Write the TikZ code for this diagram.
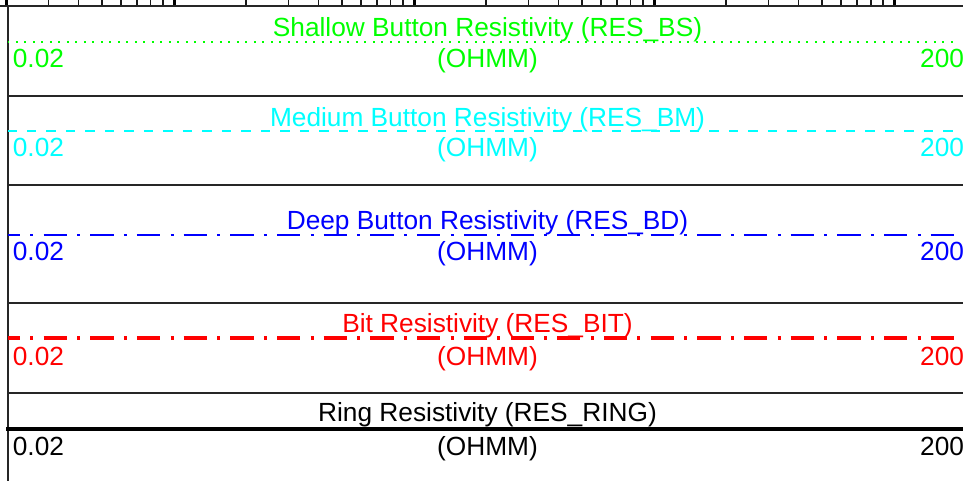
\documentclass[tikz,border=0pt]{standalone}
\usepackage{fontspec}
\setmainfont{Liberation Sans}
\usepackage{tikz}
\usetikzlibrary{calc}

\definecolor{bsgreen}{RGB}{0,255,0}
\definecolor{bmcyan}{RGB}{0,255,255}
\definecolor{bdblue}{RGB}{0,0,255}
\definecolor{bitred}{RGB}{255,0,0}

\tikzset{
  hdr/.style={anchor=base, inner sep=0pt, font=\fontsize{14.95}{17}\selectfont},
  rule/.style={line width=0.04cm, black!85},
  bsline/.style={bsgreen, line width=0.04cm, dash pattern=on 0.04cm off 0.13cm},
  bmline/.style={bmcyan, line width=0.04cm, dash pattern=on 0.19cm off 0.2cm},
  bdline/.style={bdblue, line width=0.04cm, dash pattern=on 0.466cm off 0.206cm on 0.06cm off 0.202cm, dash phase=0.212cm},
  bitline/.style={bitred, line width=0.08cm, dash pattern=on 0.466cm off 0.206cm on 0.06cm off 0.202cm, dash phase=0.212cm},
  ringline/.style={black, line width=0.08cm},
}

\begin{document}
\begin{tikzpicture}[x=0.02cm, y=-0.02cm]
  \useasboundingbox (0,0) rectangle (963,481);
  % log scale ticks along the top, 0.02 .. 200, 240 units per decade
  \foreach \i in {0,...,4}{
    \foreach \m in {1,...,9}{
      \pgfmathsetmacro\tx{240*\i-66+240*log10(\m)}
      \ifdim\tx pt>4pt \ifdim\tx pt<966pt
        \draw[line width=0.03cm, black!90] (\tx,0) -- (\tx,6);
      \fi\fi
    }
  }
  \foreach \tx in {6.3,174,414,654,894}
    \draw[line width=0.06cm] (\tx,0) -- (\tx,6);
  \draw[rule] (0,6) -- (963,6);
  \draw[rule] (7.8,6) -- (7.8,481);
  % separators between the curves
  \foreach \sy in {96,185,303,393}
    \draw[rule] (7.8,\sy) -- (963,\sy);
  % one block per curve: line y / title baseline / scale baseline
  \foreach \nm/\ly/\ty/\vy/\col/\ttl in {
      bs/41.7/36/67.3/bsgreen/Shallow Button Resistivity (RES\_BS),
      bm/131/126.7/156.7/bmcyan/Medium Button Resistivity (RES\_BM),
      bd/234.7/229.3/260.7/bdblue/Deep Button Resistivity (RES\_BD),
      bit/338.3/332/365.7/bitred/Bit Resistivity (RES\_BIT)}{
    \draw[\nm line] (7.5,\ly) -- (956,\ly);
    \node[hdr, text=\col] (\nm-title) at (487.5,\ty) {\ttl};
    \node[hdr, text=\col, anchor=base west] (\nm-lo) at (12.5,\vy) {0.02};
    \node[hdr, text=\col] (\nm-unit) at (487.5,\vy) {(OHMM)};
    \node[hdr, text=\col, anchor=base west] (\nm-hi) at (919.8,\vy) {200};
  }
  \draw[ringline] (6,428.7) -- (963,428.7);
  \node[hdr] (ring-title) at (487.5,421.7) {Ring Resistivity (RES\_RING)};
  \node[hdr, anchor=base west] (ring-lo) at (12.5,455.7) {0.02};
  \node[hdr] (ring-unit) at (487.5,455.7) {(OHMM)};
  \node[hdr, anchor=base west] (ring-hi) at (919.8,455.7) {200};
\end{tikzpicture}
\end{document}
